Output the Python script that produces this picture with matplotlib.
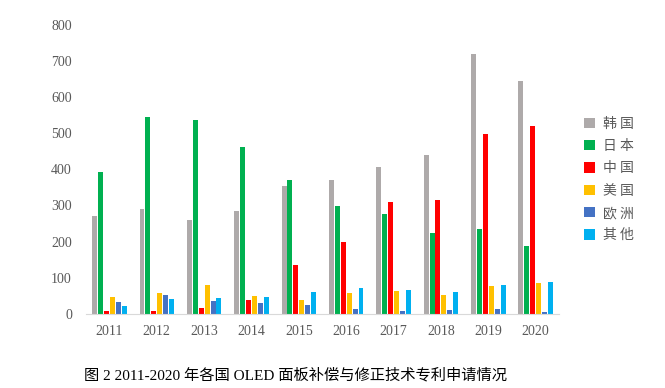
import numpy as np
import matplotlib
matplotlib.use("Agg")
from matplotlib import pyplot as plt

plt.rcParams['font.family'] = ['Liberation Serif', 'Noto Sans CJK SC', 'DejaVu Sans']

years = ['2011', '2012', '2013', '2014', '2015', '2016', '2017', '2018', '2019', '2020']
countries = ['韩 国', '日 本', '中 国', '美 国', '欧 洲', '其 他']
korea = [270, 291, 260, 285, 355, 371, 407, 440, 720, 645]
japan = [393, 546, 537, 463, 371, 299, 277, 224, 235, 188]
china = [8, 8, 17, 39, 136, 199, 310, 316, 499, 521]
usa = [47, 58, 80, 50, 39, 58, 64, 53, 78, 86]
europe = [33, 53, 36, 30, 25, 14, 8, 11, 14, 6]
others = [22, 42, 44, 47, 61, 72, 66, 61, 80, 89]
series = [korea, japan, china, usa, europe, others]
colors = ['#AEAAAA', '#00B050', '#FF0000', '#FFC000', '#4472C4', '#00B0F0']

fig = plt.figure(figsize=(6.65, 3.88), dpi=100)
ax = fig.add_axes([0.129, 0.191, 0.712, 0.745])

x = np.arange(len(years))
step = 0.125
width = 0.105
for i, (vals, c, lab) in enumerate(zip(series, colors, countries)):
    ax.bar(x + (i - 2.5) * step, vals, width=width, color=c, label=lab)

ax.set_xlim(-0.5, len(years) - 0.5)
ax.set_ylim(0, 800)
ax.set_yticks(range(0, 801, 100))
ax.set_xticks(x)
ax.set_xticklabels(years)
ax.tick_params(axis='both', length=0, labelsize=10, labelcolor='#595959')
ax.tick_params(axis='y', pad=10)
ax.tick_params(axis='x', pad=8)
for s in ['top', 'right', 'left']:
    ax.spines[s].set_visible(False)
ax.spines['bottom'].set_color('#D9D9D9')

leg = ax.legend(loc='center left', bbox_to_anchor=(1.025, 0.465), frameon=False,
                prop={'family': ['Noto Sans CJK SC'], 'size': 10},
                handlelength=0.8, handleheight=0.8, labelspacing=0.6, handletextpad=0.6)
for t in leg.get_texts():
    t.set_color('#595959')

fig.text(0.126, 0.034, '图 2 2011-2020 年各国 OLED 面板补偿与修正技术专利申请情况',
         fontsize=11, ha='left', va='center', color='black')

fig.savefig('out.png', dpi=100)
